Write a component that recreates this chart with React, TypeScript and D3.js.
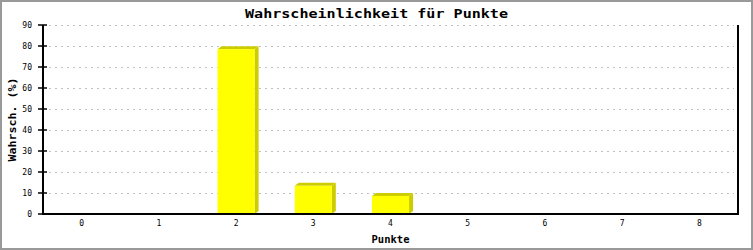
import React from "react";
import * as d3 from "d3";

const categories = ["0", "1", "2", "3", "4", "5", "6", "7", "8"];
const values = [0, 0, 78.5, 13.4, 8.6, 0, 0, 0, 0];
const yTicks = [0, 10, 20, 30, 40, 50, 60, 70, 80, 90];
const title = "Wahrscheinlichkeit für Punkte";
const xLabel = "Punkte";
const yLabel = "Wahrsch. (%)";

const W = 753;
const H = 250;
const M = { left: 43, right: 738, top: 25, bottom: 214 };
const mono = "'DejaVu Sans Mono', 'Liberation Mono', monospace";

export default function App() {
  const x = d3.scaleBand<string>().domain(categories).range([M.left, M.right]).paddingInner(0).paddingOuter(0);
  const y = d3.scaleLinear().domain([0, 90]).range([M.bottom, M.top]);
  const bw = x.bandwidth() * 0.48;
  const dx = 4;
  const dy = 3;

  return (
    <svg
      width={W}
      height={H}
      style={{ position: "fixed", left: 0, top: 0, background: "#fff" }}
    >
      <rect x={1} y={1} width={W - 2} height={H - 2} fill="#fff" stroke="#999" strokeWidth={2} />
      <text
        x={W / 2}
        y={18}
        textAnchor="middle"
        fontFamily={mono}
        fontWeight="bold"
        fontSize={13}
        textLength={263}
        lengthAdjust="spacingAndGlyphs"
      >
        {title}
      </text>
      {yTicks.filter((t) => t > 0).map((t) => (
        <line
          key={"g" + t}
          x1={M.left + 6}
          x2={M.right - 4}
          y1={Math.round(y(t)) + 0.5}
          y2={Math.round(y(t)) + 0.5}
          stroke="#c0c0c0"
          strokeWidth={1}
          strokeDasharray="2 4"
        />
      ))}
      {categories.map((c, i) => {
        const v = values[i];
        if (v <= 0) return null;
        const cx = (x(c) as number) + x.bandwidth() / 2;
        const x0 = cx - bw / 2;
        const x1 = cx + bw / 2;
        const yt = y(v);
        const yb = y(0);
        const top = `${x0},${yt} ${x0 + dx},${yt - dy} ${x1 + dx},${yt - dy} ${x1},${yt}`;
        const side = `${x1},${yt} ${x1 + dx},${yt - dy} ${x1 + dx},${yb - dy} ${x1},${yb}`;
        return (
          <g key={c}>
            <polygon points={top} fill="#cccc00" />
            <polygon points={side} fill="#cccc00" />
            <rect x={x0} y={yt} width={bw} height={yb - yt} fill="#ffff00" />
          </g>
        );
      })}
      {yTicks.map((t) => (
        <g key={"t" + t}>
          <line x1={M.left - 5} x2={M.left + 4} y1={Math.round(y(t))} y2={Math.round(y(t))} stroke="#000" strokeWidth={1.5} />
          <text
            x={M.left - 11}
            y={Math.round(y(t)) + 3}
            textAnchor="end"
            fontFamily={mono}
            fontSize={8}
          >
            {t}
          </text>
        </g>
      ))}
      <line x1={M.left} x2={M.left} y1={M.top} y2={M.bottom + 1} stroke="#000" strokeWidth={2} />
      <line x1={M.right} x2={M.right} y1={M.top} y2={M.bottom + 1} stroke="#000" strokeWidth={2} />
      <line x1={M.left} x2={M.right + 1} y1={M.bottom} y2={M.bottom} stroke="#000" strokeWidth={2} />
      {categories.map((c) => (
        <text
          key={"x" + c}
          x={(x(c) as number) + x.bandwidth() / 2}
          y={226}
          textAnchor="middle"
          fontFamily={mono}
          fontSize={8}
        >
          {c}
        </text>
      ))}
      <text
        x={(M.left + M.right) / 2}
        y={243}
        textAnchor="middle"
        fontFamily={mono}
        fontWeight="bold"
        fontSize={11}
        textLength={38}
        lengthAdjust="spacingAndGlyphs"
      >
        {xLabel}
      </text>
      <text
        transform={`translate(16, ${(M.top + M.bottom) / 2}) rotate(-90)`}
        textAnchor="middle"
        fontFamily={mono}
        fontWeight="bold"
        fontSize={11}
        textLength={84}
        lengthAdjust="spacingAndGlyphs"
      >
        {yLabel}
      </text>
    </svg>
  );
}
